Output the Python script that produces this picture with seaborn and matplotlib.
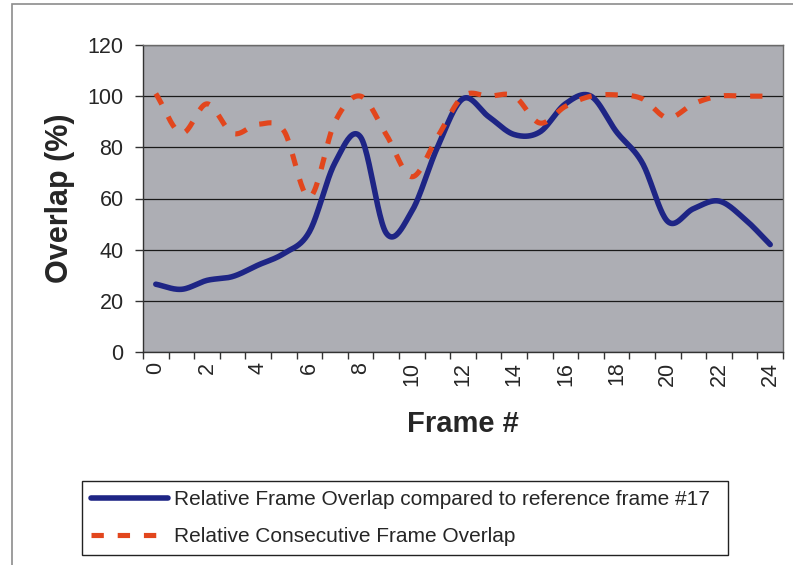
import numpy as np
import matplotlib
matplotlib.use("Agg")
import matplotlib.pyplot as plt
from matplotlib.patches import Rectangle
from matplotlib.ticker import FixedLocator
import seaborn as sns

# Frame-by-frame overlap data
frames = list(range(25))
overlap_ref17 = [26.5, 24.5, 28, 29.5, 34, 38.5, 47, 74, 84, 46.5, 55, 80, 99,
                 92, 85, 86, 97, 100, 86, 74, 51, 56, 59, 52, 42]
overlap_consecutive = [101, 85.5, 97, 85.5, 89, 86.5, 60.5, 90, 100, 85, 68.5, 84, 100,
                       100, 100, 89.5, 96, 100, 100.5, 99, 91.5, 97, 100, 100, 100]
series_labels = ["Relative Frame Overlap compared to reference frame #17",
                 "Relative Consecutive Frame Overlap"]
x_ticks = list(range(0, 25, 2))
y_ticks = list(range(0, 121, 20))

BLUE = "#1e2585"
ORANGE = "#e2461d"
PLOT_BG = "#adaeb4"


def smooth_curve(x, y, steps=24):
    """Catmull-Rom spline through every data point (a 'smoothed line')."""
    x = np.asarray(x, float)
    y = np.asarray(y, float)
    px = np.concatenate([[2 * x[0] - x[1]], x, [2 * x[-1] - x[-2]]])
    py = np.concatenate([[2 * y[0] - y[1]], y, [2 * y[-1] - y[-2]]])
    t = np.linspace(0, 1, steps, endpoint=False)
    xs, ys = [], []
    for i in range(1, len(px) - 2):
        for p, out in ((px, xs), (py, ys)):
            p0, p1, p2, p3 = p[i - 1], p[i], p[i + 1], p[i + 2]
            out.append(0.5 * (2 * p1 + (p2 - p0) * t
                              + (2 * p0 - 5 * p1 + 4 * p2 - p3) * t ** 2
                              + (3 * p1 - p0 - 3 * p2 + p3) * t ** 3))
    xs.append([x[-1]])
    ys.append([y[-1]])
    return np.concatenate(xs), np.concatenate(ys)


sns.set_style("white")
plt.rcParams["font.family"] = ["Liberation Sans", "DejaVu Sans"]

W, H = 793, 565
fig = plt.figure(figsize=(W / 100, H / 100), dpi=100)
ax = fig.add_axes([143 / W, 1 - 352 / H, 640 / W, 307 / H])
ax.set_facecolor(PLOT_BG)

sx, sy = smooth_curve(frames, overlap_ref17)
sns.lineplot(x=sx, y=sy, ax=ax, color=BLUE, linewidth=4.0, estimator=None,
             sort=False, label=series_labels[0], solid_capstyle="round")
cx, cy = smooth_curve(frames, overlap_consecutive)
sns.lineplot(x=cx, y=cy, ax=ax, color=ORANGE, linewidth=3.7, estimator=None,
             sort=False, label=series_labels[1], linestyle=(0, (2.4, 2.7)),
             dash_capstyle="butt")

ax.set_xlim(-0.5, 24.5)
ax.set_ylim(0, 120)
ax.set_yticks(y_ticks)
ax.set_xticks(x_ticks)
ax.set_xticklabels([str(v) for v in x_ticks])
ax.xaxis.set_minor_locator(FixedLocator(np.arange(-0.5, 25, 1.0)))
ax.grid(axis="y", color="#1a1a1a", linewidth=0.9)
ax.grid(axis="x", visible=False)
ax.set_axisbelow(True)

ax.tick_params(axis="y", which="major", left=True, length=6, width=1,
               color="#333333", pad=8, labelsize=15.5)
ax.tick_params(axis="x", which="major", bottom=True, length=0, pad=7,
               labelsize=15.5, labelrotation=90)
ax.tick_params(axis="x", which="minor", bottom=True, length=5, width=1,
               color="#333333")

for side, sp in ax.spines.items():
    sp.set_color("#333333" if side in ("left", "bottom") else "#6a6a6a")
    sp.set_linewidth(1.0)

ax.set_ylabel("Overlap (%)", fontsize=22, fontweight="bold")
ax.yaxis.set_label_coords((60 - 143) / 640, 0.5)
ax.yaxis.label.set_va("center")
ax.set_xlabel("Frame #", fontsize=21, fontweight="bold")
ax.xaxis.set_label_coords(0.5, (352 - 424) / 307)
ax.xaxis.label.set_va("center")

leg = ax.legend(loc="center", bbox_to_anchor=(82 / W, 1 - 559 / H, 646 / W, 82 / H),
                bbox_transform=fig.transFigure, mode="expand", fontsize=15,
                frameon=True, fancybox=False, framealpha=1, edgecolor="#222222",
                handlelength=3.7, handletextpad=0.25, labelspacing=0.85,
                borderpad=0.45, borderaxespad=0)
leg.get_frame().set_linewidth(1.0)

# chart-area border
fig.add_artist(Rectangle((12 / W, -0.01), 1.0, 1 - 4 / H + 0.01,
                         transform=fig.transFigure, fill=False,
                         edgecolor="#8c8c8c", linewidth=1.2))

fig.savefig("out.png", dpi=100, facecolor="white")
